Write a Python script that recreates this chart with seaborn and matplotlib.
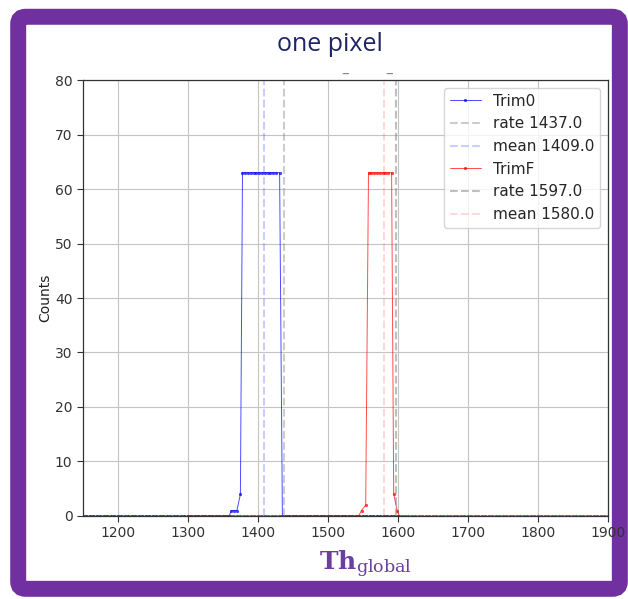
import matplotlib
matplotlib.use("Agg")
import matplotlib.pyplot as plt
from matplotlib.patches import FancyBboxPatch
import seaborn as sns

# ---------------- data ----------------
trim0_x = [1150, 1155, 1160, 1165, 1170, 1175, 1180, 1185, 1190, 1195,
           1200, 1205, 1210, 1215, 1220, 1225, 1230, 1235, 1240, 1245,
           1250, 1255, 1260, 1265, 1270, 1275, 1280, 1285, 1290, 1295,
           1300, 1305, 1310, 1315, 1320, 1325, 1330, 1335, 1340, 1345,
           1350, 1355, 1359, 1362, 1366, 1370, 1375,
           1378, 1382, 1386, 1390, 1394, 1398, 1402, 1406, 1410, 1414,
           1418, 1422, 1426, 1431,
           1435, 1440, 1445, 1450, 1455, 1460, 1465, 1470, 1475, 1480,
           1485, 1490, 1495, 1500, 1505, 1510, 1515, 1520, 1525, 1530,
           1535, 1540, 1545, 1550, 1555, 1560, 1565, 1570, 1575, 1580,
           1585, 1590, 1595, 1600]
trim0_y = [0, 0, 0, 0, 0, 0, 0, 0, 0, 0,
           0, 0, 0, 0, 0, 0, 0, 0, 0, 0,
           0, 0, 0, 0, 0, 0, 0, 0, 0, 0,
           0, 0, 0, 0, 0, 0, 0, 0, 0, 0,
           0, 0, 0, 1, 1, 1, 4,
           63, 63, 63, 63, 63, 63, 63, 63, 63, 63,
           63, 63, 63, 63,
           0, 0, 0, 0, 0, 0, 0, 0, 0, 0,
           0, 0, 0, 0, 0, 0, 0, 0, 0, 0,
           0, 0, 0, 0, 0, 0, 0, 0, 0, 0,
           0, 0, 0, 0]

trimF_x = [1300, 1305, 1310, 1315, 1320, 1325, 1330, 1335, 1340, 1345,
           1350, 1355, 1360, 1365, 1370, 1375, 1380, 1385, 1390, 1395,
           1400, 1405, 1410, 1415, 1420, 1425, 1430, 1435, 1440, 1445,
           1450, 1455, 1460, 1465, 1470, 1475, 1480, 1485, 1490, 1495,
           1500, 1505, 1510, 1515, 1520, 1525, 1530, 1535, 1540, 1544,
           1548, 1554,
           1558, 1562, 1566, 1570, 1574, 1578, 1582, 1586, 1591,
           1594, 1599,
           1602, 1606, 1610, 1615, 1620, 1625, 1630, 1635, 1640, 1645,
           1650, 1655, 1660, 1665, 1670, 1675, 1680, 1685, 1690, 1695,
           1700, 1705, 1710, 1715, 1720, 1725, 1730, 1735, 1740, 1745,
           1750, 1755, 1760, 1765, 1770, 1775, 1780, 1785, 1790, 1795,
           1800, 1805, 1810, 1815, 1820, 1825, 1830, 1835, 1840, 1845,
           1850, 1855, 1860, 1865, 1870, 1875, 1880, 1885, 1890, 1895,
           1900]
trimF_y = [0, 0, 0, 0, 0, 0, 0, 0, 0, 0,
           0, 0, 0, 0, 0, 0, 0, 0, 0, 0,
           0, 0, 0, 0, 0, 0, 0, 0, 0, 0,
           0, 0, 0, 0, 0, 0, 0, 0, 0, 0,
           0, 0, 0, 0, 0, 0, 0, 0, 0, 0,
           1, 2,
           63, 63, 63, 63, 63, 63, 63, 63, 63,
           4, 1,
           0, 0, 0, 0, 0, 0, 0, 0, 0, 0,
           0, 0, 0, 0, 0, 0, 0, 0, 0, 0,
           0, 0, 0, 0, 0, 0, 0, 0, 0, 0,
           0, 0, 0, 0, 0, 0, 0, 0, 0, 0,
           0, 0, 0, 0, 0, 0, 0, 0, 0, 0,
           0, 0, 0, 0, 0, 0, 0, 0, 0, 0,
           0]

rate0 = 1437.0
mean0 = 1409.0
rateF = 1597.0
meanF = 1580.0

x_ticks = [1200, 1300, 1400, 1500, 1600, 1700, 1800, 1900]
y_ticks = [0, 10, 20, 30, 40, 50, 60, 70, 80]

# ---------------- style ----------------
sns.set_style("ticks")
plt.rcParams["font.family"] = ["DejaVu Sans"]
plt.rcParams["mathtext.fontset"] = "dejavuserif"

fig = plt.figure(figsize=(6.28, 5.99), dpi=100)
fig.patch.set_facecolor("white")

# purple slide frame (outline only, behind the axes)
frame = FancyBboxPatch((0.029, 0.017), 0.958, 0.955,
                       boxstyle="round,pad=0,rounding_size=0.012",
                       transform=fig.transFigure, facecolor="none",
                       edgecolor="#7030a0", linewidth=11.5, zorder=-5)
fig.patches.append(frame)

ax = fig.add_axes([0.132, 0.1386, 0.836, 0.7278])
ax.set_facecolor("white")
ax.grid(True, color="#c4c4c4", linewidth=0.8)
ax.set_axisbelow(True)

sns.lineplot(x=trim0_x, y=trim0_y, ax=ax, color="blue", linewidth=0.7,
             marker=".", markersize=3.5, mec="blue", mew=0.5,
             label="Trim0", alpha=0.7)
ax.axvline(rate0, color="grey", linestyle="--", alpha=0.4, linewidth=1.5,
           label=f"rate {rate0}")
ax.axvline(mean0, color="blue", linestyle="--", alpha=0.2, linewidth=1.5,
           label=f"mean {mean0}")
sns.lineplot(x=trimF_x, y=trimF_y, ax=ax, color="red", linewidth=0.7,
             marker=".", markersize=3.5, mec="red", mew=0.5,
             label="TrimF", alpha=0.7)
ax.axvline(rateF, color="grey", linestyle="--", alpha=0.5, linewidth=1.5,
           label=f"rate {rateF}")
ax.axvline(meanF, color="red", linestyle="--", alpha=0.15, linewidth=1.5,
           label=f"mean {meanF}")

ax.set_xlim(1150, 1900)
ax.set_ylim(0, 80)
ax.set_xticks(x_ticks)
ax.set_yticks(y_ticks)
ax.tick_params(labelsize=10, colors="#333333", length=4)
for sp in ax.spines.values():
    sp.set_visible(True)
    sp.set_color("#333333")
    sp.set_linewidth(0.9)
ax.set_xlabel("")
ax.set_ylabel("Counts", fontsize=10, color="#222222", labelpad=2)

ax.legend(loc="upper right", fontsize=11, framealpha=0.8)

# slide texts
fig.text(0.525, 0.926, "one pixel", ha="center", va="center",
         fontsize=18, color="#1f2466", weight="medium",
         family=["Open Sans", "DejaVu Sans"])
fig.text(0.582, 0.058, r"$\mathbf{Th}_{\mathrm{global}}$", ha="center",
         va="center", fontsize=18, color="#6a3fa0")
fig.text(0.549, 0.878, "–", ha="center", va="center", fontsize=11,
         color="#888888")
fig.text(0.620, 0.878, "–", ha="center", va="center", fontsize=11,
         color="#888888")

fig.savefig("out.png", dpi=100, facecolor="white")
